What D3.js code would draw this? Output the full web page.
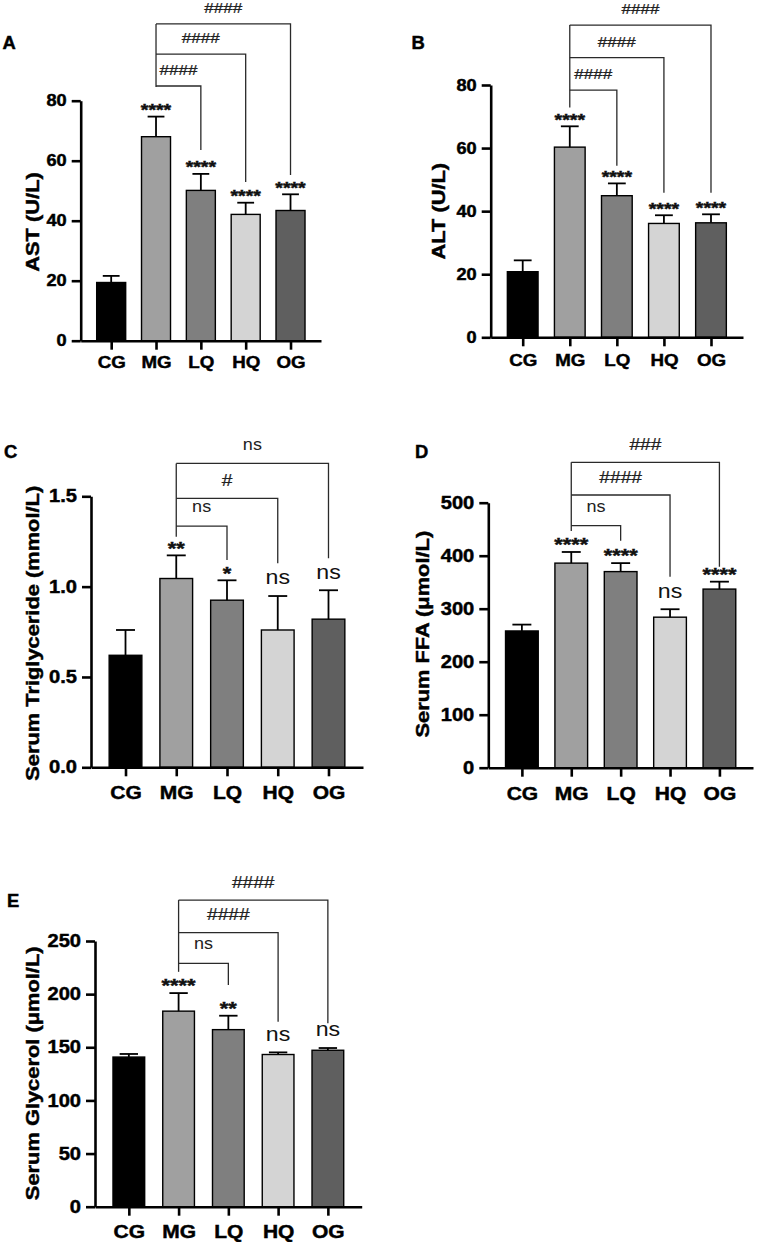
<!DOCTYPE html>
<html><head><meta charset="utf-8">
<script src="https://cdn.jsdelivr.net/npm/d3@7"></script>
<style>
body{margin:0;background:#fff}
svg{display:block}
text{font-family:"Liberation Sans",Arial,Helvetica,sans-serif}
</style>
</head><body>
<svg id="chart" width="758" height="1242"></svg>
<script>
// ---------- data ----------
const categories = ["CG", "MG", "LQ", "HQ", "OG"];
const barColors = ["#000000", "#a0a0a0", "#7f7f7f", "#d4d4d4", "#5f5f5f"];

const astMean = [19.4, 68.0, 50.1, 42.1, 43.4];
const astUpper = [21.6, 74.7, 55.6, 46.0, 48.8];
const astSig = ["", "****", "****", "****", "****"];
const astCompare = ["LQ", "HQ", "OG"];
const astCompareLabel = ["####", "####", "####"];
const astTicks = [0, 20, 40, 60, 80];

const altMean = [20.8, 60.3, 44.9, 36.1, 36.3];
const altUpper = [24.4, 66.9, 48.8, 38.7, 39.0];
const altSig = ["", "****", "****", "****", "****"];
const altCompare = ["LQ", "HQ", "OG"];
const altCompareLabel = ["####", "####", "####"];
const altTicks = [0, 20, 40, 60, 80];

const tgMean = [0.62, 1.045, 0.925, 0.76, 0.82];
const tgUpper = [0.76, 1.173, 1.035, 0.948, 0.98];
const tgSig = ["", "**", "*", "ns", "ns"];
const tgCompare = ["LQ", "HQ", "OG"];
const tgCompareLabel = ["ns", "#", "ns"];
const tgTicks = [0, 0.5, 1.0, 1.5];

const ffaMean = [258, 386, 370, 284, 337];
const ffaUpper = [270, 407, 386, 299, 351];
const ffaSig = ["", "****", "****", "ns", "****"];
const ffaCompare = ["LQ", "HQ", "OG"];
const ffaCompareLabel = ["ns", "####", "###"];
const ffaTicks = [0, 100, 200, 300, 400, 500];

const glyMean = [140.8, 184.0, 166.6, 143.2, 147.2];
const glyUpper = [143.7, 201.0, 179.7, 145.2, 149.3];
const glySig = ["", "****", "**", "ns", "ns"];
const glyCompare = ["LQ", "HQ", "OG"];
const glyCompareLabel = ["ns", "####", "####"];
const glyTicks = [0, 50, 100, 150, 200, 250];

// ---------- layout ----------
const SX = 1.15; // horizontal stretch of the lettering
const BOLD_STROKE = 0.45;
const panels = [
  {letter: "A", title: "AST (U/L)", mean: astMean, upper: astUpper, sig: astSig,
   cmp: astCompare, cmpLab: astCompareLabel, ticks: astTicks, fmt: d3.format("d"),
   ax: 80.7, xEnd: 321, y0: 340.7, yTop: 100.7, barW: 29, k: 1, xPad: 7,
   lx: 2.5, ly: 43, tx: 32.5, ty: 222,
   levels: [84.9, 95.5, 105.6], legEnds: [63.6, 52.9, 55.2], leftEnd: 84.6},
  {letter: "B", title: "ALT (U/L)", mean: altMean, upper: altUpper, sig: altSig,
   cmp: altCompare, cmpLab: altCompareLabel, ticks: altTicks, fmt: d3.format("d"),
   ax: 490.7, xEnd: 743, y0: 337.3, yTop: 85, barW: 30.7, k: 1, xPad: 8.5,
   lx: 411.5, ly: 42.7, tx: 438.3, ty: 211.2,
   levels: [78.4, 88.65, 99.0], legEnds: [54.4, 45.85, 45.85], leftEnd: 72.9},
  {letter: "C", title: "Serum Triglyceride (mmol/L)", mean: tgMean, upper: tgUpper, sig: tgSig,
   cmp: tgCompare, cmpLab: tgCompareLabel, ticks: tgTicks, fmt: d3.format(".1f"),
   ax: 91, xEnd: 363, y0: 767.3, yTop: 496.3, barW: 32.7, k: 1.12, xPad: 10,
   lx: 4, ly: 451.7, tx: 31.7, ty: 633.3,
   levels: [1.335, 1.489, 1.682], legEnds: [1.147, 1.129, 1.157], leftEnd: 1.276},
  {letter: "D", title: "Serum FFA (\u03bcmol/L)", mean: ffaMean, upper: ffaUpper, sig: ffaSig,
   cmp: ffaCompare, cmpLab: ffaCompareLabel, ticks: ffaTicks, fmt: d3.format("d"),
   ax: 488.3, xEnd: 753, y0: 767.7, yTop: 502.7, barW: 32.7, k: 1.12, xPad: 10,
   lx: 415, ly: 451.7, tx: 421.7, ty: 634.2,
   levels: [456.6, 514.5, 576.2], legEnds: [428.3, 360.4, 379.2], leftEnd: 446.6},
  {letter: "E", title: "Serum Glycerol (\u03bcmol/L)", mean: glyMean, upper: glyUpper, sig: glySig,
   cmp: glyCompare, cmpLab: glyCompareLabel, ticks: glyTicks, fmt: d3.format("d"),
   ax: 95, xEnd: 361.7, y0: 1206.7, yTop: 941, barW: 31.7, k: 1.12, xPad: 9.5,
   lx: 7, ly: 901, tx: 31.7, ty: 1073.3,
   levels: [229, 257.8, 288.5], legEnds: [208.6, 174, 172.5], leftEnd: 221}
];

const svg = d3.select("#chart");

function label(g, x, y, str, fs, opts = {}) {
  const sx = opts.sx || SX;
  const rot = opts.rotate ? " rotate(-90)" : "";
  const t = g.append("text")
    .attr("transform", `translate(${x},${y})${rot} scale(${sx},1)`)
    .attr("text-anchor", opts.anchor || "middle")
    .attr("font-size", fs)
    .attr("font-weight", opts.bold ? "bold" : "normal")
    .attr("fill", opts.fill || "#000")
    .text(str);
  if (opts.bold) t.attr("stroke", opts.fill || "#000").attr("stroke-width", BOLD_STROKE);
  return t;
}

panels.forEach(p => {
  const g = svg.append("g");
  const k = p.k;
  const yMax = p.ticks[p.ticks.length - 1];
  const y = d3.scaleLinear().domain([0, yMax]).range([p.y0, p.yTop]);
  const x = d3.scalePoint().domain(categories).range([p.ax, p.xEnd]).padding(0.68);

  // bars
  g.selectAll("rect.bar").data(categories).join("rect")
    .attr("class", "bar")
    .attr("x", (c) => x(c) - p.barW / 2)
    .attr("y", (c, i) => y(p.mean[i]))
    .attr("width", p.barW)
    .attr("height", (c, i) => y(0) - y(p.mean[i]))
    .attr("fill", (c, i) => barColors[i])
    .attr("stroke", "#000").attr("stroke-width", 1.4);

  // error bars (upper only) + significance vs CG
  const cap = p.barW * 0.29;
  categories.forEach((c, i) => {
    const cx = x(c);
    const eTop = y(p.upper[i]);
    g.append("line").attr("x1", cx).attr("x2", cx)
      .attr("y1", y(p.mean[i])).attr("y2", eTop)
      .attr("stroke", "#000").attr("stroke-width", 1.8);
    g.append("line").attr("x1", cx - cap).attr("x2", cx + cap)
      .attr("y1", eTop).attr("y2", eTop)
      .attr("stroke", "#000").attr("stroke-width", 1.8);
    const s = p.sig[i];
    if (s === "ns") {
      const fs = 18 * k;
      label(g, cx, eTop - 15 * k + 0.26 * fs, s, fs, {fill: "#111"});
    } else if (s) {
      const fs = 17 * k;
      label(g, cx, eTop - 10.5 * k + 0.585 * fs, s, fs, {bold: true, fill: "#111"});
    }
  });

  // comparison brackets from MG
  const mx = x("MG");
  const bc = "#2a2a2a";
  g.append("line").attr("x1", mx).attr("x2", mx)
    .attr("y1", y(p.levels[p.levels.length - 1])).attr("y2", y(p.leftEnd))
    .attr("stroke", bc).attr("stroke-width", 1.3);
  p.cmp.forEach((c, j) => {
    const tx = x(c);
    const ly = y(p.levels[j]);
    g.append("path")
      .attr("d", `M${mx},${ly}H${tx}V${y(p.legEnds[j])}`)
      .attr("fill", "none").attr("stroke", bc).attr("stroke-width", 1.3);
    const lab = p.cmpLab[j];
    const isHash = lab.startsWith("#");
    const fs = 14 * k;
    const centre = ly - 16 * k;
    const t = label(g, (mx + tx) / 2, centre + (isHash ? 0.345 : 0.26) * fs, lab, fs,
      {fill: "#222", sx: isHash ? 1.22 : SX});
    if (isHash) t.attr("stroke", "#222").attr("stroke-width", 0.25);
  });

  // axes
  const tickSize = 9, tickPad = 5;
  const yAxis = g.append("g").attr("transform", `translate(${p.ax},0)`)
    .call(d3.axisLeft(y).tickValues(p.ticks).tickFormat(p.fmt)
      .tickSize(tickSize).tickSizeOuter(0).tickPadding(tickPad));
  const xAxis = g.append("g").attr("transform", `translate(0,${p.y0})`)
    .call(d3.axisBottom(x).tickSize(tickSize).tickSizeOuter(0).tickPadding(p.xPad));
  [yAxis, xAxis].forEach(a => {
    a.select(".domain").attr("stroke", "#000").attr("stroke-width", 2.6);
    a.selectAll(".tick line").attr("stroke", "#000").attr("stroke-width", 2.6);
    a.selectAll("text").attr("fill", "#000").attr("font-weight", "bold")
      .attr("stroke", "#000").attr("stroke-width", BOLD_STROKE)
      .attr("font-family", "'Liberation Sans', Arial, sans-serif");
  });
  yAxis.selectAll("text")
    .attr("font-size", (p.k > 1 ? 17.5 : 15.8))
    .attr("x", -(tickSize + tickPad) / SX)
    .attr("transform", `scale(${SX},1)`);
  xAxis.selectAll("text")
    .attr("font-size", 16.3 * k)
    .attr("transform", `scale(${SX},1)`);

  // y title
  const tfs = 19;
  label(g, p.tx + 0.358 * tfs, p.ty, p.title, tfs, {bold: true, rotate: true});

  // panel letter
  label(g, p.lx, p.ly + 0.358 * 17.5, p.letter, 17.5, {bold: true, anchor: "start", sx: 1.05});
});
</script>
</body></html>
